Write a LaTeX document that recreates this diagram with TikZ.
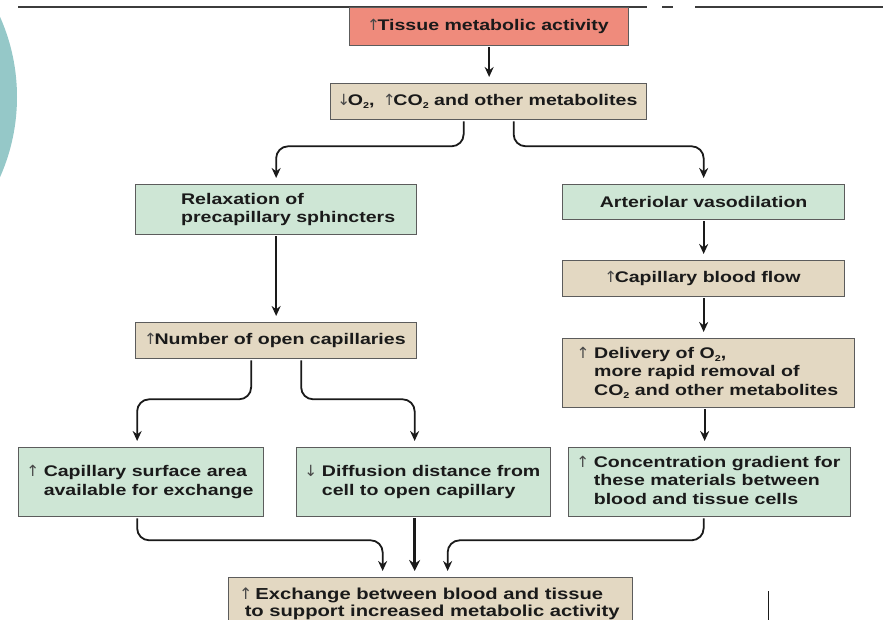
\documentclass[tikz,border=0pt]{standalone}
\usepackage{fontspec}
\setmainfont{Liberation Sans}[FakeStretch=1.27]
\newfontfamily\arrf{DejaVu Sans}
\usetikzlibrary{arrows.meta}
\definecolor{salmonc}{HTML}{EF8B7C}
\definecolor{tanc}{HTML}{E3D8C2}
\definecolor{mintc}{HTML}{CEE6D5}
\definecolor{edgec}{HTML}{5C5C5C}
\definecolor{inkc}{HTML}{1A1A1A}
\definecolor{tealc}{HTML}{95C8C8}
\newcommand\uar{\makebox[8pt]{\arrf\mdseries\color{inkc!80}↑}}
\newcommand\dar{\makebox[8pt]{\arrf\mdseries\color{inkc!80}↓}}
\newcommand\subtwo{\raisebox{-3pt}{\fontsize{8.5}{8.5}\selectfont 2}}
\newcommand\hang[2]{#1\hspace{7pt}\begin{tabular}[t]{@{}l@{}}#2\end{tabular}}
\begin{document}
\begin{tikzpicture}[x=1pt,y=-1pt,
  box/.style={draw=edgec, line width=1.3pt, fill=#1, anchor=north west, inner sep=0pt,
    align=center, text=inkc, font=\fontsize{15.4}{18.5}\selectfont\bfseries},
  conn/.style={draw=inkc, line width=1.8pt, rounded corners=12pt,
    -{Stealth[length=10pt,width=9pt]}, shorten >=6pt, shorten <=1pt},
  thickconn/.style={conn, line width=3.5pt, -{Stealth[length=11pt,width=11pt]}},
]
\clip (0,0) rectangle (883,620);
\useasboundingbox (0,0) rectangle (883,620);
\fill[white] (0,0) rectangle (883,620);
\fill[tealc] (-180,97) circle (197pt);
\draw[line width=1.6pt, color=inkc!85] (18,7) -- (647,7) (662,7) -- (673,7) (695,7) -- (883,7);
\draw[line width=1pt, color=inkc] (768,591) -- (768,620);

\node[box=salmonc, minimum width=279pt, minimum height=38pt] (top) at (349,7)
  {\uar Tissue metabolic activity};
\node[box=tanc, minimum width=316pt, minimum height=36pt] (mid) at (330,83)
  {\dar O\subtwo, \ \uar CO\subtwo\ and other metabolites};
\node[box=mintc, minimum width=281pt, minimum height=50pt, align=left] (relax) at (135,184)
  {\hspace*{24pt}Relaxation of\\\hspace*{24pt}precapillary sphincters};
\node[box=mintc, minimum width=282pt, minimum height=35pt] (art) at (562,184)
  {Arteriolar vasodilation};
\node[box=tanc, minimum width=282pt, minimum height=36pt] (flow) at (562,260)
  {\uar Capillary blood flow};
\node[box=tanc, minimum width=292pt, minimum height=69pt] (deliv) at (562,338)
  {\hang{\uar}{Delivery of O\subtwo,\\more rapid removal of\\CO\subtwo\ and other metabolites}};
\node[box=tanc, minimum width=281pt, minimum height=36pt] (num) at (135,322)
  {\uar Number of open capillaries};
\node[box=mintc, minimum width=245pt, minimum height=69pt] (cap) at (18,447)
  {\hang{\uar}{Capillary surface area\\available for exchange}};
\node[box=mintc, minimum width=254pt, minimum height=69pt] (diff) at (296,447)
  {\hang{\dar}{Diffusion distance from\\cell to open capillary}};
\node[box=mintc, minimum width=282pt, minimum height=69pt] (conc) at (568,447)
  {\hang{\uar}{Concentration gradient for\\these materials between\\blood and tissue cells}};
\node[box=tanc, minimum width=404pt, minimum height=52pt, align=left,
  font=\fontsize{15.9}{17.5}\selectfont\bfseries] (bot) at (228,577)
  {\uar\ Exchange between blood and tissue\\\hspace*{3pt}to support increased metabolic activity};

\draw[conn] (top.south) -- (top.south |- mid.north);
\draw[conn] ([xshift=-25pt]mid.south) -- ++(0,26) -| (relax.north);
\draw[conn] ([xshift=25pt]mid.south) -- ++(0,26) -| (art.north);
\draw[conn] (relax.south) -- (num.north);
\draw[conn] (art.south) -- (art.south |- flow.north);
\draw[conn] (flow.south) -- (flow.south |- deliv.north);
\draw[conn] ([xshift=-4pt]deliv.south) -- ([xshift=-4pt]deliv.south |- conc.north);
\draw[conn] ([xshift=-25pt]num.south) -- ++(0,40) -| ([xshift=-4pt]cap.north);
\draw[conn] ([xshift=25pt]num.south) -- ++(0,40) -| ([xshift=-9pt]diff.north);
\draw[conn] ([xshift=-4pt]cap.south) -- ++(0,23) -| ([xshift=-48pt]bot.north);
\draw[thickconn] ([xshift=-9pt]diff.south) -- ([xshift=-9pt]diff.south |- bot.north);
\draw[conn] ([xshift=-6pt]conc.south) -- ++(0,23) -| ([xshift=17pt]bot.north);
\end{tikzpicture}
\end{document}
